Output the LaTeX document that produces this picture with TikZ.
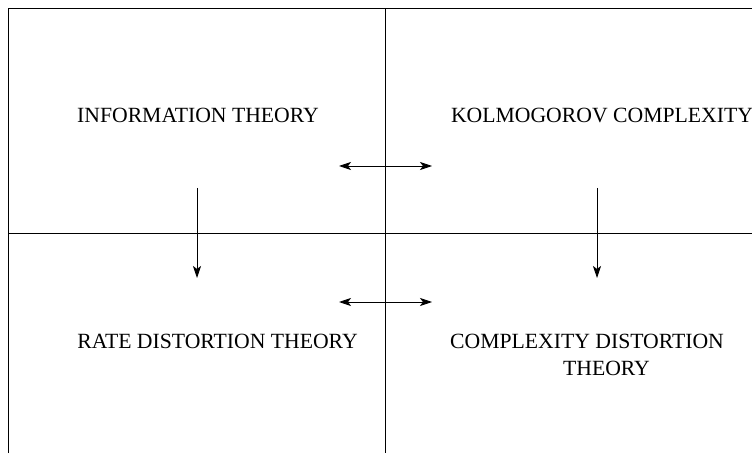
\documentclass[tikz,border=0pt]{standalone}
\usepackage{fontspec}
\setmainfont{Liberation Serif}
\usetikzlibrary{arrows.meta}
\begin{document}
\begin{tikzpicture}[x=1pt,y=1pt,
  frame/.style={line width=0.9pt,black},
  conn/.style={line width=0.8pt,black,{Stealth[length=12pt,width=8pt,inset=3pt]}-{Stealth[length=12pt,width=8pt,inset=3pt]}},
  down/.style={line width=0.8pt,black,-{Stealth[length=12pt,width=8pt,inset=3pt]}},
  lbl/.style={anchor=base,inner sep=0pt,font=\fontsize{21.7}{27}\selectfont}]
\useasboundingbox (0,0) rectangle (752,453);
% frame
\coordinate (tl) at (8.5,444.5);
\coordinate (tr) at (752,444.5);
\coordinate (bl) at (8.5,0);
\coordinate (ml) at (8.5,220);
\coordinate (mr) at (752,220);
\coordinate (vt) at (385.5,444.5);
\coordinate (vb) at (385.5,0);
\draw[frame] (bl) -- (tl) -- (tr);
\draw[frame] (ml) -- (mr);
\draw[frame] (vt) -- (vb);
% labels
\node[lbl] (info) at (198,330) {INFORMATION THEORY};
\node[lbl] (kolm) at (602,330) {KOLMOGOROV COMPLEXITY};
\node[lbl] (rate) at (217.5,105) {RATE DISTORTION THEORY};
\node[lbl] (cdt1) at (587,105) {COMPLEXITY DISTORTION};
\node[lbl] (cdt2) at (606.5,78) {THEORY};
% arrows
\coordinate (h1a) at (339,287);
\coordinate (h1b) at (432,287);
\coordinate (h2a) at (339,151);
\coordinate (h2b) at (432,151);
\coordinate (v1a) at (197,265);
\coordinate (v1b) at (197,175);
\coordinate (v2a) at (597,265);
\coordinate (v2b) at (597,175);
\draw[conn] (h1a) -- (h1b);
\draw[conn] (h2a) -- (h2b);
\draw[down] (v1a) -- (v1b);
\draw[down] (v2a) -- (v2b);
\end{tikzpicture}
\end{document}
